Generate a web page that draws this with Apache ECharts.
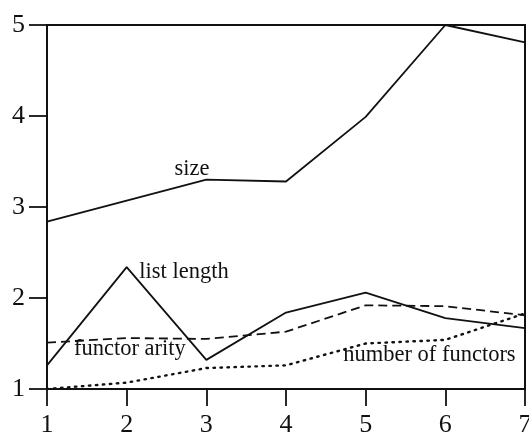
<!DOCTYPE html>
<html>
<head>
<meta charset="utf-8">
<script src="https://cdn.jsdelivr.net/npm/echarts@6/dist/echarts.min.js"></script>
<style>
html,body{margin:0;padding:0;background:#fff;}
#chart{width:529px;height:435px;}
</style>
</head>
<body>
<div id="chart"></div>
<script>
var xValues = [1, 2, 3, 4, 5, 6, 7];
var sizeValues = [2.84, 3.07, 3.30, 3.28, 3.99, 5.00, 4.81];
var listLengthValues = [1.26, 2.34, 1.32, 1.84, 2.06, 1.78, 1.67];
var functorArityValues = [1.51, 1.56, 1.55, 1.63, 1.92, 1.91, 1.81];
var numFunctorsValues = [1.00, 1.07, 1.23, 1.26, 1.50, 1.54, 1.83];
var seriesNames = ['size', 'list length', 'functor arity', 'number of functors'];
var labelPositions = [[2.82, 3.42], [2.72, 2.29], [2.04, 1.44], [5.80, 1.37]];
var xTicks = [1, 7, 1];
var yTicks = [1, 5, 1];

function pairs(vals) { return xValues.map(function (x, i) { return [x, vals[i]]; }); }

var fontFam = '"Liberation Serif", "Times New Roman", serif';
var ink = '#111';

function mkSeries(idx, vals, lineType) {
  return {
    type: 'line',
    name: seriesNames[idx],
    data: pairs(vals),
    symbol: 'none',
    silent: true,
    lineStyle: { color: ink, width: lineType === 'dotted' ? 2.4 : 1.8, type: lineType === 'dotted' ? [1.5, 5.5] : (lineType === 'dashed' ? [9, 5] : 'solid'), cap: lineType === 'dotted' ? 'round' : 'butt' },
    markPoint: {
      symbol: 'circle',
      symbolSize: 1,
      silent: true,
      itemStyle: { color: 'rgba(0,0,0,0)' },
      label: { show: true, formatter: seriesNames[idx], color: ink, fontFamily: fontFam, fontSize: 22.5, position: 'inside' },
      data: [{ coord: labelPositions[idx] }]
    },
    z: 3
  };
}

var chart = echarts.init(document.getElementById('chart'));
chart.setOption({
  backgroundColor: '#fff',
  animation: false,
  grid: { left: 47, right: 4, top: 25, bottom: 46, containLabel: false, outerBoundsMode: 'none', show: true, borderColor: ink, borderWidth: 2, backgroundColor: 'transparent' },
  xAxis: {
    type: 'value', min: xTicks[0], max: xTicks[1], interval: xTicks[2],
    axisLine: { show: true, lineStyle: { color: ink, width: 2 } },
    axisTick: { show: true, inside: false, length: 17, lineStyle: { color: ink, width: 1.8 } },
    axisLabel: { color: ink, fontFamily: fontFam, fontSize: 26, margin: 23 },
    splitLine: { show: false }
  },
  yAxis: {
    type: 'value', min: yTicks[0], max: yTicks[1], interval: yTicks[2],
    axisLine: { show: true, lineStyle: { color: ink, width: 2 } },
    axisTick: { show: true, inside: false, length: 18, lineStyle: { color: ink, width: 1.8 } },
    axisLabel: { color: ink, fontFamily: fontFam, fontSize: 26, margin: 22 },
    splitLine: { show: false }
  },
  series: [
    mkSeries(0, sizeValues, 'solid'),
    mkSeries(1, listLengthValues, 'solid'),
    mkSeries(2, functorArityValues, 'dashed'),
    mkSeries(3, numFunctorsValues, 'dotted')
  ]
});
</script>
</body>
</html>
